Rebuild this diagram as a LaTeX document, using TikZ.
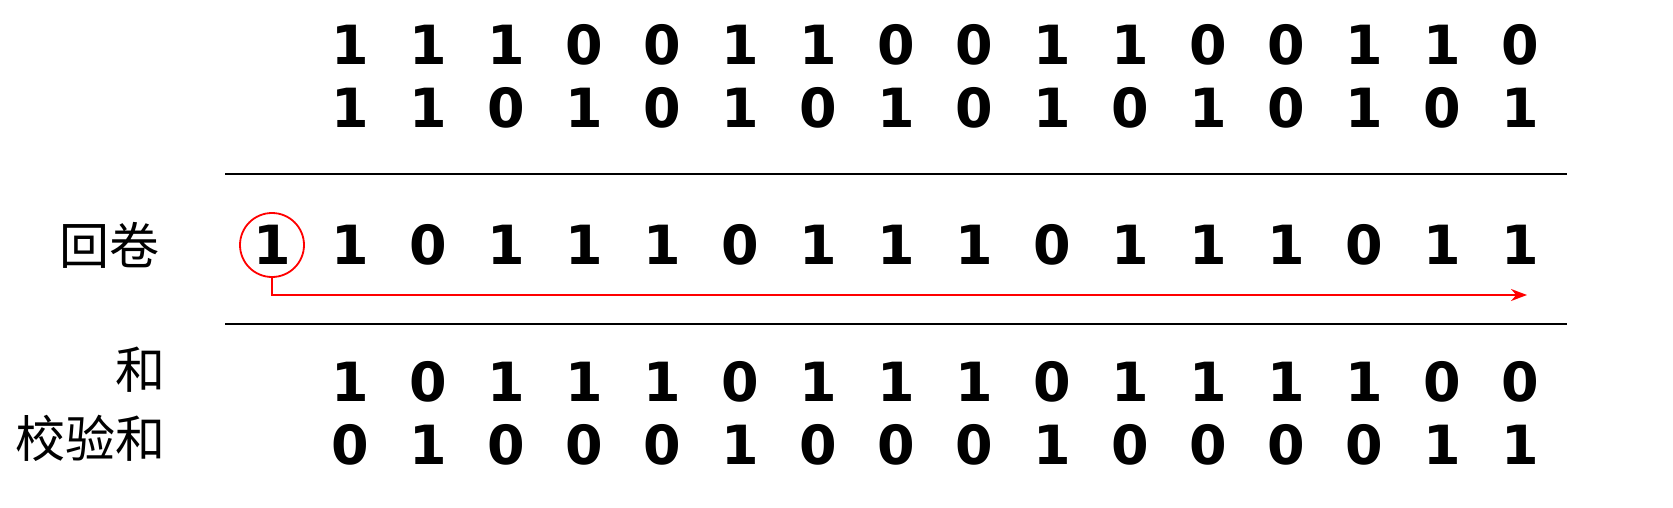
\documentclass[tikz,border=0pt]{standalone}
\usepackage{fontspec}
\newfontfamily\digitfont{DejaVu Sans}[BoldFont={DejaVu Sans Bold}]
\newfontfamily\cjk{Noto Sans CJK SC}
\usetikzlibrary{arrows.meta}
\begin{document}
\begin{tikzpicture}[x=1pt,y=-1pt,
  bit/.style={font=\digitfont\bfseries\fontsize{54}{54}\selectfont, inner sep=0pt, anchor=center},
  lab/.style={font=\cjk\fontsize{50}{50}\selectfont, inner sep=0pt},
  rule/.style={line width=2.2pt, black},
  redline/.style={line width=2.2pt, red}]
\useasboundingbox (0,0) rectangle (1673,508);
\def\rowA{1,1,1,0,0,1,1,0,0,1,1,0,0,1,1,0}
\def\rowB{1,1,0,1,0,1,0,1,0,1,0,1,0,1,0,1}
\def\rowC{1,0,1,1,1,0,1,1,1,0,1,1,1,0,1,1}
\def\rowD{1,0,1,1,1,0,1,1,1,0,1,1,1,1,0,0}
\def\rowE{0,1,0,0,0,1,0,0,0,1,0,0,0,0,1,1}
\foreach \b [count=\i from 0] in \rowA {\node[bit] (a\i) at (350+78*\i,45) {\b};}
\foreach \b [count=\i from 0] in \rowB {\node[bit] (b\i) at (350+78*\i,108) {\b};}
\node[bit] (c0) at (272,245) {1};
\foreach \b [count=\i from 1] in \rowC {\node[bit] (c\i) at (272+78*\i,245) {\b};}
\foreach \b [count=\i from 0] in \rowD {\node[bit] (d\i) at (350+78*\i,382) {\b};}
\foreach \b [count=\i from 0] in \rowE {\node[bit] (e\i) at (350+78*\i,445) {\b};}
\node[lab, anchor=east] (roll) at (160,245) {回卷};
\node[lab, anchor=east] (sum) at (166,370) {和};
\node[lab, anchor=east] (chk) at (166,438) {校验和};
\coordinate (l1a) at (225,174); \coordinate (l1b) at (1567,174);
\coordinate (l2a) at (225,324); \coordinate (l2b) at (1567,324);
\draw[rule] (l1a) -- (l1b);
\draw[rule] (l2a) -- (l2b);
\node[draw=red, line width=1.8pt, circle, minimum size=64pt, inner sep=0pt] (circ) at (272,245) {};
\coordinate (arrEnd) at (1527,295);
\draw[redline, -{Stealth[length=16pt,width=12pt]}] (circ.south) |- (arrEnd);
\end{tikzpicture}
\end{document}
